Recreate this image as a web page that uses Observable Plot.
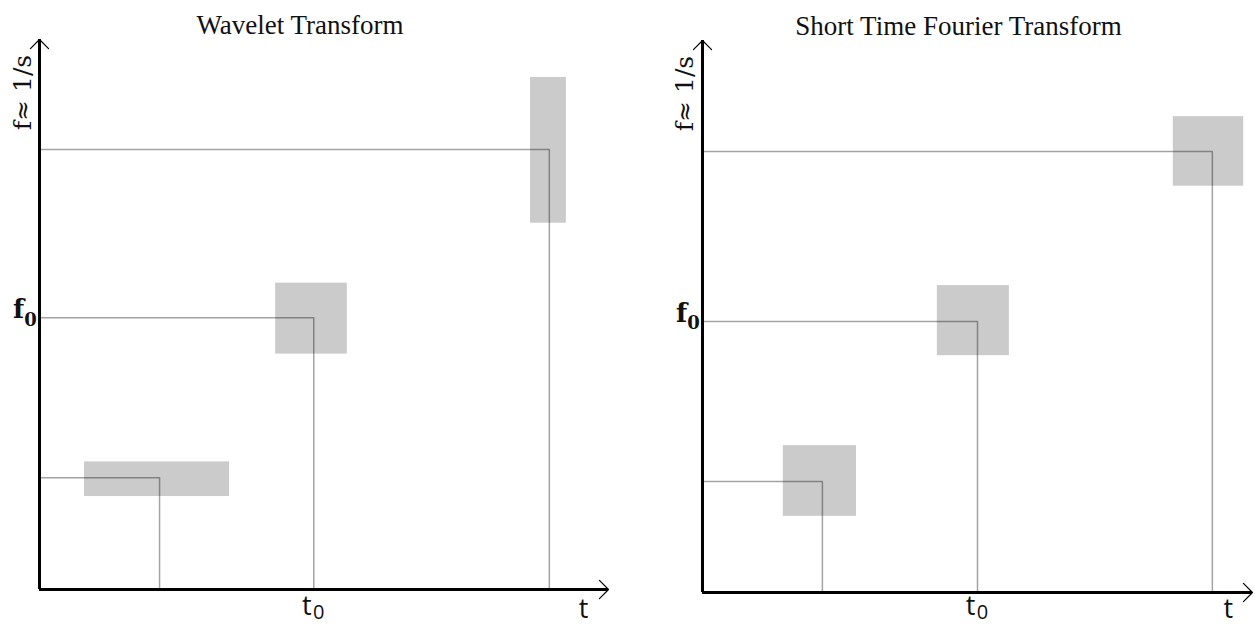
<!DOCTYPE html>
<html><head><meta charset="utf-8">
<script src="https://cdn.jsdelivr.net/npm/d3@7"></script>
<script src="https://cdn.jsdelivr.net/npm/@observablehq/plot@0.6"></script>
<style>
body{margin:0;background:#fff}
#wrap{display:flex;width:1255px;height:626px;overflow:hidden}
#wrap svg{flex:none}
</style>
</head><body><div id="wrap"></div>
<script>
// ---- data ----
const titles = ["Wavelet Transform", "Short Time Fourier Transform"];
const yAxisLabel = "f\u2248 1/s";
const xAxisLabel = "t";
const markedIndex = 1; // the tile labelled t0 / f0

// Wavelet transform: tile centres (t, f) and tile extents
const waveletT = [2.11, 4.82, 8.96];
const waveletF = [2.03, 4.94, 8.00];
const waveletT1 = [0.79, 4.15, 8.63];
const waveletT2 = [3.34, 5.41, 9.26];
const waveletF1 = [1.69, 4.28, 6.66];
const waveletF2 = [2.32, 5.57, 9.31];

// Short time Fourier transform
const stftT = [2.18, 5.00, 9.27];
const stftF = [2.01, 4.91, 7.99];
const stftT1 = [1.47, 4.27, 8.56];
const stftT2 = [2.80, 5.58, 9.84];
const stftF1 = [1.38, 4.29, 7.36];
const stftF2 = [2.66, 5.56, 8.62];

const axisMax = 10;
const xLabelPos = 9.56;

function panel(title, T, F, T1, T2, F1, F2, m) {
  const tiles = T.map((t, i) => ({t, f: F[i], t1: T1[i], t2: T2[i], f1: F1[i], f2: F2[i]}));
  const guides = tiles.flatMap((d, i) => [
    {i, t: 0, f: d.f}, {i, t: d.t, f: d.f}, {i, t: d.t, f: 0}
  ]);
  const mk = tiles[markedIndex];
  const serif = "DejaVu Serif";
  return Plot.plot({
    width: m.width, height: 626,
    marginLeft: m.left, marginRight: m.right, marginTop: m.top, marginBottom: m.bottom,
    x: {domain: [0, axisMax], axis: null},
    y: {domain: [0, axisMax], axis: null},
    style: {background: "transparent", overflow: "visible"},
    marks: [
      Plot.rect(tiles, {x1: "t1", x2: "t2", y1: "f1", y2: "f2", fill: "#cbcbcb"}),
      Plot.line(guides, {x: "t", y: "f", z: "i", stroke: "#000", strokeOpacity: 0.36, strokeWidth: 1.5, curve: "linear"}),
      // axes
      Plot.ruleX([0], {y1: 0, y2: axisMax, stroke: "#000", strokeWidth: 3}),
      Plot.ruleY([0], {x1: 0, x2: axisMax, stroke: "#000", strokeWidth: 3}),
      Plot.arrow([{x1: 0, y1: 0, x2: 0, y2: axisMax}, {x1: 0, y1: 0, x2: axisMax, y2: 0}],
        {x1: "x1", y1: "y1", x2: "x2", y2: "y2", stroke: "#000", strokeWidth: 1.2, headAngle: 90, headLength: 16}),
      // title
      Plot.text([title], {frameAnchor: "top", text: d => d, dx: m.titleDx, dy: -6, lineAnchor: "bottom",
        fontFamily: "Liberation Serif", fontSize: 27, fill: "#111"}),
      // y axis label (rotated)
      Plot.text([yAxisLabel], {frameAnchor: "top-left", text: d => d, rotate: -90, dx: m.yLabDx, dy: 53,
        textAnchor: "middle", lineAnchor: "middle", fontFamily: serif, fontSize: 25, fill: "#111"}),
      // x axis label
      Plot.text([xAxisLabel], {x: [xLabelPos], y: [0], text: d => d, dy: 20 + m.labDy,
        textAnchor: "middle", lineAnchor: "middle", fontFamily: "Open Sans", fontSize: 27, fill: "#111"}),
      // f0
      Plot.text(["f"], {x: [0], y: [mk.f], text: d => d, dx: -21, dy: -8, textAnchor: "middle", lineAnchor: "middle",
        fontFamily: serif, fontWeight: "bold", fontSize: 26, fill: "#111"}),
      Plot.text(["0"], {x: [0], y: [mk.f], text: d => d, dx: -9, dy: 2, textAnchor: "middle", lineAnchor: "middle",
        fontFamily: serif, fontWeight: "bold", fontSize: 18, fill: "#111"}),
      // t0
      Plot.text(["t"], {x: [mk.t], y: [0], text: d => d, dx: -7, dy: 17 + m.labDy, textAnchor: "middle", lineAnchor: "middle",
        fontFamily: "Open Sans", fontSize: 27, fill: "#111"}),
      Plot.text(["0"], {x: [mk.t], y: [0], text: d => d, dx: 5, dy: 23 + m.labDy, textAnchor: "middle", lineAnchor: "middle",
        fontFamily: "Open Sans", fontSize: 20, fill: "#111"})
    ]
  });
}

const wrap = document.getElementById("wrap");
wrap.appendChild(panel(titles[0], waveletT, waveletF, waveletT1, waveletT2, waveletF1, waveletF2,
  {width: 627, left: 39, right: 19, top: 39, bottom: 37, titleDx: -24, yLabDx: -17, labDy: 0}));
wrap.appendChild(panel(titles[1], stftT, stftF, stftT1, stftT2, stftF1, stftF2,
  {width: 628, left: 75, right: 3, top: 40, bottom: 34, titleDx: -19, yLabDx: -18, labDy: -3}));
</script>
</body></html>
